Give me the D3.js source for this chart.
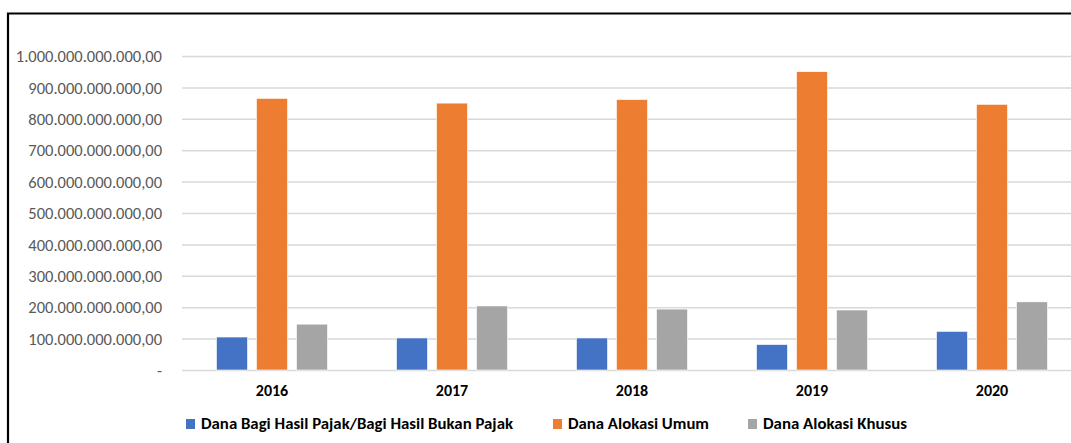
<!DOCTYPE html>
<html><head><meta charset="utf-8">
<script src="https://cdn.jsdelivr.net/npm/d3@7"></script>
<style>body{margin:0;background:#fff;}svg{display:block;}</style>
</head><body>
<svg id="chart" width="1071" height="443"></svg>
<script>
const categories = ["2016","2017","2018","2019","2020"];
const seriesNames = ["Dana Bagi Hasil Pajak/Bagi Hasil Bukan Pajak","Dana Alokasi Umum","Dana Alokasi Khusus"];
const dbh = [105e9, 102e9, 102e9, 81e9, 123e9];
const dau = [865e9, 850e9, 861e9, 950e9, 846e9];
const dak = [146e9, 204e9, 194e9, 191e9, 217e9];
const colors = ["#4472C4","#ED7D31","#A5A5A5"];
const tickValues = [0,100e9,200e9,300e9,400e9,500e9,600e9,700e9,800e9,900e9,1000e9];
const tickLabels = ["-","100.000.000.000,00","200.000.000.000,00","300.000.000.000,00","400.000.000.000,00","500.000.000.000,00","600.000.000.000,00","700.000.000.000,00","800.000.000.000,00","900.000.000.000,00","1.000.000.000.000,00"];

(function(){
const series = [dbh, dau, dak];
const svg = d3.select("#chart");
const font = "Carlito, Calibri, 'Liberation Sans', Arial, sans-serif";

// frame
svg.append("path").attr("d","M8,443 L8,13.5 L1071,13.5").attr("fill","none").attr("stroke","#000").attr("stroke-width",2.2);

const mLeft = 182, mRight = 1082, mTop = 56, mBottom = 370;
const y = d3.scaleLinear().domain([0,1000e9]).range([mBottom, mTop]);
const x0 = d3.scaleBand().domain(categories).range([mLeft,mRight]).paddingInner(0).paddingOuter(0);
const groupW = 111;
const x1 = d3.scaleBand().domain([0,1,2]).range([0,groupW]).paddingInner(9/40);

// grid
const grid = svg.append("g").attr("transform",`translate(${mLeft},0)`)
  .call(d3.axisLeft(y).tickValues(tickValues).tickSize(-(mRight-mLeft)).tickFormat(""));
grid.select(".domain").remove();
grid.selectAll(".tick line").attr("stroke","#d9d9d9").attr("stroke-width",1.5);

// y labels
const yAxis = svg.append("g").attr("transform",`translate(${mLeft-20},0)`)
  .call(d3.axisLeft(y).tickValues(tickValues).tickSize(0).tickPadding(0).tickFormat((d,i)=>tickLabels[i]));
yAxis.select(".domain").remove();
yAxis.selectAll("text").attr("font-family",font).attr("font-size",16.5).attr("fill","#595959").attr("dy","0.35em");

// bars
const groups = svg.append("g").selectAll("g").data(categories).join("g")
  .attr("transform", d => `translate(${x0(d)+x0.bandwidth()/2-groupW/2},0)`);
groups.selectAll("rect").data((d,ci)=>series.map((s,si)=>({si, v:s[ci]}))).join("rect")
  .attr("x", d=>x1(d.si)).attr("width", x1.bandwidth())
  .attr("y", d=>y(d.v)).attr("height", d=>y(0)-y(d.v))
  .attr("fill", d=>colors[d.si]).attr("stroke","#fff").attr("stroke-width",0.6);

// x labels
const xAxis = svg.append("g").attr("transform",`translate(0,${mBottom})`)
  .call(d3.axisBottom(x0).tickSize(0).tickPadding(20));
xAxis.select(".domain").remove();
xAxis.selectAll("text").attr("font-family",font).attr("font-size",16).attr("font-weight","bold").attr("fill","#000").attr("dy","0.35em");

// legend
const legX = [186, 553, 748];
const legW = [312, 141, 144];
const leg = svg.append("g").selectAll("g").data(seriesNames).join("g")
  .attr("transform",(d,i)=>`translate(${legX[i]},424)`);
leg.append("rect").attr("x",0).attr("y",-5).attr("width",9).attr("height",10).attr("fill",(d,i)=>colors[i]);
leg.append("text").attr("x",15).attr("y",0).attr("dy","0.35em").text(d=>d)
  .attr("font-family",font).attr("font-size",15).attr("font-weight","bold").attr("fill","#000")
  .attr("textLength",(d,i)=>legW[i]).attr("lengthAdjust","spacingAndGlyphs");
})();
</script>
</body></html>
